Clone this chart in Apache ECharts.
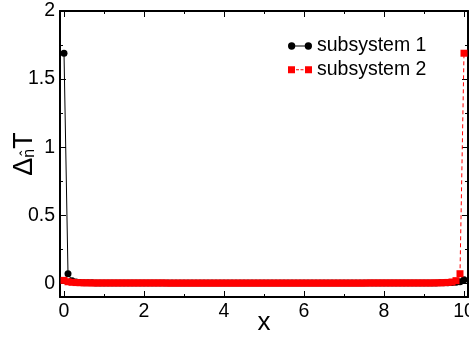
<!DOCTYPE html>
<html><head><meta charset="utf-8">
<script src="https://cdn.jsdelivr.net/npm/echarts@6/dist/echarts.min.js"></script>
<style>html,body{margin:0;padding:0;background:#fff}#c{width:469px;height:338px}</style>
</head><body><div id="c"></div>
<script>
var xValues = [0,0.1,0.2,0.3,0.4,0.5,0.6,0.7,0.8,0.9,1,1.1,1.2,1.3,1.4,1.5,1.6,1.7,1.8,1.9,2,2.1,2.2,2.3,2.4,2.5,2.6,2.7,2.8,2.9,3,3.1,3.2,3.3,3.4,3.5,3.6,3.7,3.8,3.9,4,4.1,4.2,4.3,4.4,4.5,4.6,4.7,4.8,4.9,5,5.1,5.2,5.3,5.4,5.5,5.6,5.7,5.8,5.9,6,6.1,6.2,6.3,6.4,6.5,6.6,6.7,6.8,6.9,7,7.1,7.2,7.3,7.4,7.5,7.6,7.7,7.8,7.9,8,8.1,8.2,8.3,8.4,8.5,8.6,8.7,8.8,8.9,9,9.1,9.2,9.3,9.4,9.5,9.6,9.7,9.8,9.9,10];
var subsystem1 = [1.69,0.07,0.02,0.01,0.007,0.005,0.004,0.004,0.003,0.003,
  0.003,0.003,0.003,0.003,0.003,0.003,0.003,0.003,0.003,0.003,
  0.003,0.003,0.003,0.003,0.003,0.002,0.002,0.002,0.002,0.002,
  0.002,0.002,0.002,0.002,0.002,0.002,0.002,0.002,0.002,0.002,
  0.002,0.002,0.002,0.002,0.002,0.002,0.002,0.002,0.002,0.002,
  0.002,0.002,0.002,0.002,0.002,0.002,0.002,0.002,0.002,0.002,
  0.002,0.002,0.002,0.002,0.002,0.002,0.002,0.002,0.002,0.002,
  0.002,0.002,0.002,0.002,0.002,0.003,0.003,0.003,0.003,0.003,
  0.003,0.003,0.003,0.003,0.003,0.003,0.003,0.003,0.003,0.003,
  0.003,0.003,0.003,0.003,0.004,0.004,0.005,0.006,0.008,0.012,0.027];
var subsystem2 = [0.022,0.012,0.008,0.006,0.005,0.004,0.004,0.003,0.003,0.003,
  0.003,0.003,0.003,0.003,0.003,0.003,0.003,0.003,0.003,0.003,
  0.003,0.003,0.003,0.003,0.003,0.003,0.002,0.002,0.002,0.002,
  0.002,0.002,0.002,0.002,0.002,0.002,0.002,0.002,0.002,0.002,
  0.002,0.002,0.002,0.002,0.002,0.002,0.002,0.002,0.002,0.002,
  0.002,0.002,0.002,0.002,0.002,0.002,0.002,0.002,0.002,0.002,
  0.002,0.002,0.002,0.002,0.002,0.002,0.002,0.002,0.002,0.002,
  0.002,0.002,0.002,0.002,0.002,0.002,0.003,0.003,0.003,0.003,
  0.003,0.003,0.003,0.003,0.003,0.003,0.003,0.003,0.003,0.003,
  0.003,0.003,0.003,0.004,0.004,0.005,0.007,0.01,0.02,0.071,1.69];
var xMajorTicks = [0,2,4,6,8,10];
var xMinorTicks = [1,3,5,7,9];
var yMajorTicks = [0,0.5,1,1.5,2];
var yMinorTicks = [0.25,0.75,1.25,1.75];
var seriesNames = ['subsystem 1','subsystem 2'];

function pairs(xs, ys){ return xs.map(function(x,i){ return [x, ys[i]]; }); }

var FONT = 'Liberation Sans';
var XMIN = -0.1, XMAX = 10.1, YMIN = -0.1, YMAX = 2;

function xAx(pos, ticks, len, showLine, showLabel, extra){
  var a = {type:'value', position:pos, min:XMIN, max:XMAX,
    splitLine:{show:false},
    axisLine:{show:showLine, onZero:false, lineStyle:{color:'#000', width:2}},
    axisTick:{show:true, inside:true, length:len, customValues:ticks, lineStyle:{color:'#000', width:1}},
    axisLabel:{show:showLabel, customValues:ticks, color:'#000', fontSize:19.5, fontFamily:FONT, margin:5}};
  return Object.assign(a, extra||{});
}
function yAx(pos, ticks, len, showLine, showLabel, extra){
  var a = {type:'value', position:pos, min:YMIN, max:YMAX,
    splitLine:{show:false},
    axisLine:{show:showLine, onZero:false, lineStyle:{color:'#000', width:2}},
    axisTick:{show:true, inside:true, length:len, customValues:ticks, lineStyle:{color:'#000', width:1}},
    axisLabel:{show:showLabel, customValues:ticks, color:'#000', fontSize:19.5, fontFamily:FONT, margin:5}};
  return Object.assign(a, extra||{});
}

var chart = echarts.init(document.getElementById('c'), null, {renderer:'canvas'});
chart.setOption({
  animation:false,
  backgroundColor:'#fff',
  grid:{left:60, right:1, top:11, bottom:41, containLabel:false, outerBoundsMode:'none'},
  xAxis:[
    xAx('bottom', xMajorTicks, 6, true, true, {name:'x', nameLocation:'middle', nameGap:13, nameMoveOverlap:false,
      nameTextStyle:{color:'#000', fontSize:26, fontFamily:FONT, lineHeight:26}}),
    xAx('bottom', xMinorTicks, 3, false, false),
    xAx('top', xMajorTicks, 6, true, false),
    xAx('top', xMinorTicks, 3, false, false)
  ],
  yAxis:[
    yAx('left', yMajorTicks, 6, true, true, {name:'{a|Δ}{s|n̂}{a|T}', nameLocation:'middle', nameGap:22, nameRotate:90, nameMoveOverlap:false,
      nameTextStyle:{color:'#000', fontSize:28, fontFamily:FONT,
        rich:{a:{fontSize:27, fontFamily:FONT, color:'#000', lineHeight:30, verticalAlign:'bottom'},
              s:{fontSize:16, fontFamily:FONT, color:'#000', lineHeight:16, verticalAlign:'bottom', padding:[10,0,0,0]}}}}),
    yAx('left', yMinorTicks, 3, false, false),
    yAx('right', yMajorTicks, 6, true, false),
    yAx('right', yMinorTicks, 3, false, false)
  ],
  legend:{
    orient:'vertical', left:283, top:30, padding:5, itemGap:1.7, itemWidth:24, itemHeight:8,
    textStyle:{color:'#000', fontSize:19.5, fontFamily:FONT, lineHeight:22, padding:[0,0,0,0]},
    data:[
      {name:seriesNames[0], itemStyle:{color:'#000', borderWidth:0, opacity:1},
        icon:'path://M0.5,4a3.5,3.5 0 1,1 7,0a3.5,3.5 0 1,1 -7,0Z M16.5,4a3.5,3.5 0 1,1 7,0a3.5,3.5 0 1,1 -7,0Z M4,3.5h16v1h-16Z'},
      {name:seriesNames[1], itemStyle:{color:'#ff0000', borderWidth:0, opacity:1},
        icon:'path://M0,0.5h7v7h-7Z M17,0.5h7v7h-7Z M8,3.5h3v1h-3Z M12.5,3.5h3v1h-3Z'}
    ]
  },
  series:[
    {name:seriesNames[0], type:'line', xAxisIndex:0, yAxisIndex:0, data:pairs(xValues, subsystem1),
      symbol:'circle', symbolSize:7, showAllSymbol:true, color:'#000',
      itemStyle:{color:'#000'}, lineStyle:{color:'#000', width:1}, z:2},
    {name:seriesNames[1], type:'line', xAxisIndex:0, yAxisIndex:0, data:pairs(xValues, subsystem2),
      symbol:'rect', symbolSize:7, showAllSymbol:true, color:'#ff0000',
      itemStyle:{color:'#ff0000'}, lineStyle:{color:'#ff0000', width:1, type:[4,3]}, z:3}
  ]
});
</script></body></html>
